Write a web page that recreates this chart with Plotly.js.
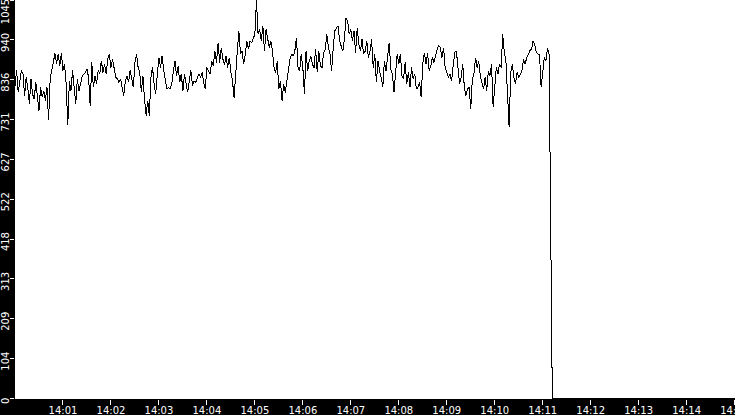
<!DOCTYPE html>
<html>
<head>
<meta charset="utf-8">
<script src="https://cdn.plot.ly/plotly-3.0.1.min.js"></script>
<style>
  html, body { margin: 0; padding: 0; background: #000; }
  #chart { width: 735px; height: 415px; }
  .scatterlayer path { shape-rendering: crispEdges; }
</style>
</head>
<body>
<div id="chart"></div>
<script>
// sampled every 2 s from 14:00:00
const day = '2024-01-01';
const startSeconds = 14 * 3600;
const stepSeconds = 2;
const values = [
  820,860,803,838,860,851,794,842,816,772,
  838,798,785,829,781,755,816,790,807,781,
  816,729,838,860,881,905,877,903,872,905,
  860,877,825,716,833,807,860,816,772,838,
  807,825,846,851,855,864,842,768,881,816,
  846,825,860,851,886,855,877,851,890,903,
  868,890,860,842,838,829,838,811,794,833,
  846,829,860,838,816,881,903,868,855,803,
  846,785,742,781,742,842,868,825,798,851,
  894,868,899,860,838,811,816,811,825,860,
  886,846,872,829,851,807,851,825,803,833,
  860,820,833,829,838,851,
  842,855,829,811,868,859,850,885,872,911,
  881,933,881,920,890,876,898,868,894,855,
  833,789,868,911,964,903,911,876,903,937,
  916,937,933,946,955,1045,955,968,937,977,
  911,968,946,920,937,911,868,855,885,811,
  833,781,824,802,833,859,
  890,903,898,911,946,868,859,903,868,798,
  911,859,885,898,876,868,916,855,911,872,
  868,907,916,955,920,903,859,920,964,972,
  977,937,920,911,942,998,990,955,968,937,
  964,907,972,929,911,942,903,911,937,894,
  911,942,868,903,829,885,
  859,842,816,885,859,899,933,864,851,803,
  851,903,877,903,846,838,881,825,855,816,
  868,838,851,811,816,829,790,877,907,877,
  907,859,872,894,881,903,916,925,920,894,
  920,868,855,842,851,833,872,907,912,859,
  825,842,877,816,794,811,
  816,759,838,851,894,868,885,846,829,811,
  842,807,859,846,877,764,816,868,851,877,
  868,955,907,885,798,711,855,877,842,825,
  855,842,851,859,890,877,894,903,912,916,
  938,929,907,903,903,816,859,894,885,920,
  903,431
];
// after the drop the feed stays at zero
const tailTimes = ['14:11:12', '14:15:00'];
const tailValues = [0, 0];

const yTickVals = [0, 104.5, 209, 313.5, 418, 522.5, 627, 731.5, 836, 940.5, 1045];
const yTickText = ['0','104','209','313','418','522','627','731','836','940','1045'];
const xTickTimes = ['14:01','14:02','14:03','14:04','14:05','14:06','14:07','14:08',
                    '14:09','14:10','14:11','14:12','14:13','14:14','14:15'];

function pad(n){return (n<10?'0':'')+n;}
function stamp(sec){
  let h=Math.floor(sec/3600), m=Math.floor(sec%3600/60), s=sec%60;
  return day+' '+pad(h)+':'+pad(m)+':'+pad(s);
}

let x=[], y=[];
values.forEach((v,i)=>{x.push(stamp(startSeconds+i*stepSeconds)); y.push(v);});
tailTimes.forEach((t,i)=>{x.push(day+' '+t); y.push(tailValues[i]);});

const tickFont = {family: 'DejaVu Sans', size: 10, color: '#fff'};
const last = yTickVals.length - 1;
const yCommon = {
  range: [-1.5, 1045], tickangle: -90, ticklabelstandoff: -3,
  ticklabeloverflow: 'allow', tickfont: tickFont,
  ticks: 'outside', ticklen: 4, tickcolor: '#fff', tickwidth: 1,
  showgrid: false, zeroline: false, showline: false,
  automargin: false, fixedrange: true
};

Plotly.newPlot('chart', [{
  x: x, y: y, type: 'scatter', mode: 'lines',
  line: {color: '#000', width: 1}, hoverinfo: 'skip'
}, {
  // empty trace so the second y axis (top label only) gets drawn
  x: [], y: [], yaxis: 'y2', type: 'scatter', mode: 'lines', hoverinfo: 'skip'
}], {
  width: 735, height: 415,
  margin: {l: 15, r: 0, t: 0, b: 16, pad: 0},
  paper_bgcolor: '#000', plot_bgcolor: '#fff',
  showlegend: false,
  xaxis: {
    type: 'date',
    range: [day+' 14:00:00', day+' 14:15:00.5'],
    tickvals: xTickTimes.map(t => day+' '+t),
    ticktext: xTickTimes,
    ticks: 'outside', ticklen: 5, tickcolor: '#fff', tickwidth: 1,
    ticklabelstandoff: -3, ticklabeloverflow: 'allow',
    tickfont: tickFont, showgrid: false, zeroline: false, showline: false,
    automargin: false, fixedrange: true
  },
  yaxis: Object.assign({}, yCommon, {
    tickvals: yTickVals.slice(0, last), ticktext: yTickText.slice(0, last),
    ticklabelshift: 4
  }),
  yaxis2: Object.assign({}, yCommon, {
    overlaying: 'y', side: 'left',
    tickvals: [yTickVals[last]], ticktext: [yTickText[last]],
    ticklabelshift: 13
  })
}, {staticPlot: true, displayModeBar: false});
</script>
</body>
</html>
